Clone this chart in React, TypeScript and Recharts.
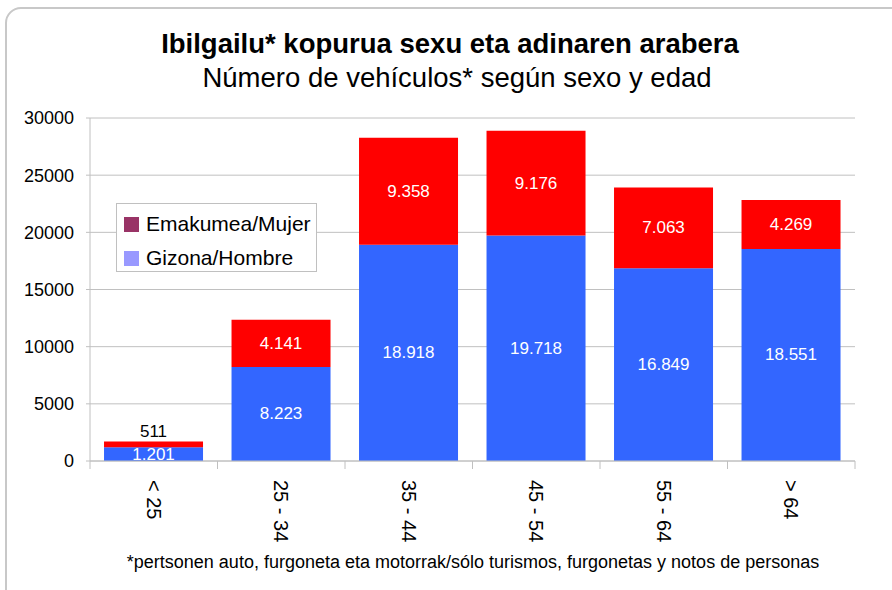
import { BarChart, Bar, XAxis, YAxis, CartesianGrid, LabelList } from "recharts";

const ages = ["< 25", "25 - 34", "35 - 44", "45 - 54", "55 - 64", "> 64"];
const men = [1201, 8223, 18918, 19718, 16849, 18551];
const women = [511, 4141, 9358, 9176, 7063, 4269];
const yTicks = [0, 5000, 10000, 15000, 20000, 25000, 30000];

const data = ages.map((age, i) => ({ age, men: men[i], women: women[i] }));

const FONT = "'Liberation Sans', Arial, sans-serif";
const GRID = "#c0c0c0";

const fmt = (v: number) => String(v).replace(/\B(?=(\d{3})+(?!\d))/g, ".");

function AgeTick(props: any) {
  const { x, y, payload, index } = props;
  const half = 127.5 / 2;
  return (
    <g>
      <line x1={x - half} x2={x - half} y1={y - 8} y2={y} stroke={GRID} />
      {index === ages.length - 1 && <line x1={x + half} x2={x + half} y1={y - 8} y2={y} stroke={GRID} />}
      <text transform={`translate(${x},${y + 11}) rotate(90)`} textAnchor="start" dominantBaseline="central"
        fontSize={20} fill="#000" fontFamily={FONT}>{payload.value}</text>
    </g>
  );
}

function WomenLabel(props: any) {
  const { x, y, width, height, value } = props;
  const cx = x + width / 2;
  if (height < 20) {
    return <text x={cx} y={y - 4} textAnchor="middle" fontSize={17} fill="#000" fontFamily={FONT}>{fmt(value)}</text>;
  }
  return <text x={cx} y={y + height / 2} textAnchor="middle" dominantBaseline="central" fontSize={17} fill="#fff" fontFamily={FONT}>{fmt(value)}</text>;
}

function MenLabel(props: any) {
  const { x, y, width, height, value } = props;
  return <text x={x + width / 2} y={y + height / 2} textAnchor="middle" dominantBaseline="central" fontSize={17} fill="#fff" fontFamily={FONT}>{fmt(value)}</text>;
}

const legendItems = [
  { name: "Emakumea/Mujer", color: "#993366" },
  { name: "Gizona/Hombre", color: "#9999FF" },
];

export default function App() {
  return (
    <div style={{ position: "absolute", left: 0, top: 0, width: 892, height: 590, background: "#fff", fontFamily: FONT, overflow: "hidden" }}>
      <div style={{ position: "absolute", left: 5, top: 7, width: 900, height: 620, border: "2px solid #c8c8c8", borderRadius: 16 }} />
      <div style={{ position: "absolute", left: 0, top: 0 }}>
        <BarChart width={892} height={590} data={data} barCategoryGap="11%"
          margin={{ top: 118, right: 37, left: 0, bottom: 0 }}>
          <CartesianGrid vertical={false} stroke={GRID} />
          <XAxis dataKey="age" height={129} axisLine={{ stroke: GRID }} tickLine={false} tick={<AgeTick />} interval={0} />
          <YAxis width={90} domain={[0, 30000]} ticks={yTicks} axisLine={{ stroke: GRID }} tickSize={4}
            tickLine={{ stroke: GRID }} tickMargin={12} tick={{ fontSize: 18, fill: "#000", fontFamily: FONT }} />
          <YAxis yAxisId="r" orientation="right" width={0} domain={[0, 30000]} tick={false} tickLine={false}
            axisLine={{ stroke: GRID }} />
          <Bar dataKey="men" stackId="a" fill="#3366FF" isAnimationActive={false}>
            <LabelList dataKey="men" content={<MenLabel />} />
          </Bar>
          <Bar dataKey="women" stackId="a" fill="#FF0000" isAnimationActive={false}>
            <LabelList dataKey="women" content={<WomenLabel />} />
          </Bar>
        </BarChart>
      </div>
      <div style={{ position: "absolute", left: 0, top: 28, width: 900, textAlign: "center", fontSize: 27.5, fontWeight: "bold", color: "#000" }}>
        Ibilgailu* kopurua sexu eta adinaren arabera
      </div>
      <div style={{ position: "absolute", left: 0, top: 62, width: 914, textAlign: "center", fontSize: 27.5, color: "#000" }}>
        Número de vehículos* según sexo y edad
      </div>
      <div style={{ position: "absolute", left: 0, top: 552, width: 946, textAlign: "center", fontSize: 18, color: "#000" }}>
        *pertsonen auto, furgoneta eta motorrak/sólo turismos, furgonetas y notos de personas
      </div>
      <div style={{ position: "absolute", left: 116, top: 203, width: 199, height: 67, border: `1px solid ${GRID}`, background: "#fff" }}>
        {legendItems.map((it, i) => (
          <div key={it.name} style={{ position: "absolute", left: 7, top: 3 + i * 34, height: 34, display: "flex", alignItems: "center" }}>
            <span style={{ width: 15, height: 15, background: it.color, display: "inline-block", marginRight: 7 }} />
            <span style={{ fontSize: 21, color: "#000", whiteSpace: "nowrap" }}>{it.name}</span>
          </div>
        ))}
      </div>
    </div>
  );
}
